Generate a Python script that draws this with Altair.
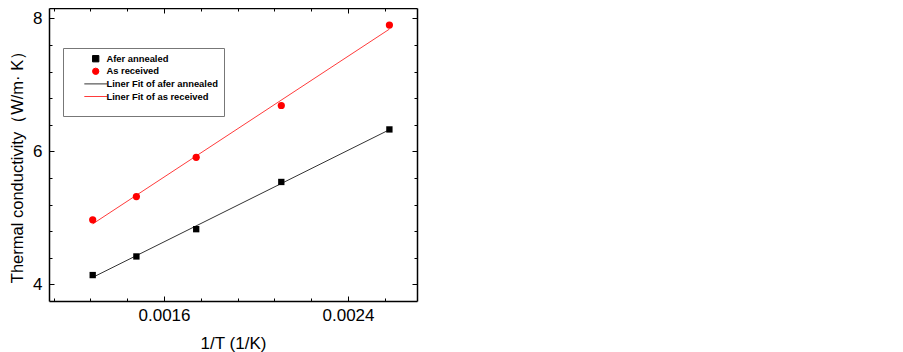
import altair as alt
import pandas as pd

# ---- data ----
inv_T = [0.00129, 0.00148, 0.00174, 0.00211, 0.00258]
annealed = [4.14, 4.42, 4.83, 5.54, 6.33]
received = [4.97, 5.32, 5.91, 6.69, 7.90]
series_names = ["Afer annealed", "As received"]
fit_names = ["Liner Fit of afer annealed", "Liner Fit of as received"]
x_major = [0.0016, 0.0024]
x_minor = [0.00112, 0.00128, 0.00144, 0.00176, 0.00192, 0.00208, 0.00224, 0.00256]
y_major = [4, 6, 8]
y_minor = [4.4, 4.8, 5.2, 5.6, 6.4, 6.8, 7.2, 7.6]

df = pd.DataFrame({
    "x": inv_T + inv_T,
    "y": annealed + received,
    "series": [series_names[0]] * len(inv_T) + [series_names[1]] * len(inv_T),
})

W, H = 368, 293
FONT = "Liberation Sans"

legend_domain = series_names + fit_names
colors = ["#000000", "#ff0000", "#333333", "#ff3b3b"]
line_path = "M-3.6,0H3.6"
shapes = ["square", "circle", line_path, line_path]

xs = alt.Scale(domain=[0.0011, 0.0027], nice=False, zero=False)
ys = alt.Scale(domain=[3.75, 8.156], nice=False, zero=False)

x_test = " || ".join(f"abs(datum.value - {v}) < 1e-9" for v in x_major)
y_test = " || ".join(f"abs(datum.value - {v}) < 1e-9" for v in y_major)
x_all = sorted(x_major + x_minor)
y_all = sorted(y_major + y_minor)


def tick_axis(orient, offset, values, test):
    return alt.Axis(
        orient=orient, offset=offset, values=values, labels=False, title=None,
        grid=False, ticks=True, tickColor="black", tickWidth=1,
        tickSize={"condition": {"test": test, "value": 5}, "value": 3},
        domain=True, domainColor="black", domainWidth=1.5,
    )


leg = alt.Legend(
    title="\u00a0", titleOrient="bottom", titleFontSize=9, titlePadding=0,
    orient="none", legendX=14, legendY=40, direction="vertical",
    labelFont=FONT, labelFontWeight="bold", labelFontSize=9.4, labelColor="black",
    symbolSize=40, symbolStrokeWidth=1, symbolOffset=22, labelOffset=6,
    padding=6, strokeColor="#777777", fillColor="white", rowPadding=1.6,
    labelLimit=300,
)

color_enc = alt.Color("series:N", scale=alt.Scale(domain=legend_domain, range=colors), legend=leg)

base = alt.Chart(df)

fit_expr = (f"datum.series == '{series_names[0]}' ? '{fit_names[0]}' : '{fit_names[1]}'")

lines = base.transform_regression("x", "y", groupby=["series"]).transform_calculate(
    series=fit_expr
).mark_line(strokeWidth=1).encode(
    x=alt.X("x:Q", scale=xs, axis=tick_axis("top", -H, x_all, x_test)),
    y=alt.Y("y:Q", scale=ys, axis=tick_axis("right", -W, y_all, y_test)),
    color=color_enc,
)

points = base.mark_point(filled=True, opacity=1).encode(
    x=alt.X("x:Q", scale=xs, axis=alt.Axis(
        orient="bottom", values=x_major, format=".4f", ticks=False, tickSize=0,
        domain=False, grid=False, labelPadding=6, title="1/T (1/K)", titlePadding=12,
        titleFontSize=17)),
    y=alt.Y("y:Q", scale=ys, axis=alt.Axis(
        orient="left", values=y_major, format="d", ticks=False, tickSize=0,
        domain=False, grid=False, labelPadding=7,
        title="Thermal conductivity（W/m· K）", titlePadding=7, titleY=H / 2 + 8)),
    color=color_enc,
    shape=alt.Shape("series:N", scale=alt.Scale(domain=legend_domain, range=shapes), legend=leg),
    size=alt.condition(f"datum.series == '{series_names[1]}'", alt.value(52), alt.value(40)),
)

mirror = base.mark_point(opacity=0).encode(
    x=alt.X("x:Q", scale=xs, axis=tick_axis("bottom", -H, x_all, x_test)),
    y=alt.Y("y:Q", scale=ys, axis=tick_axis("left", -W, y_all, y_test)),
)

chart = alt.layer(lines, points, mirror).resolve_axis(
    x="independent", y="independent"
).properties(
    width=W, height=H,
    autosize=alt.AutoSizeParams(type="none"),
    padding={"left": 41, "top": 0, "right": 10, "bottom": 51},
).configure_view(stroke=None).configure_axis(
    labelFont=FONT, labelFontSize=17, labelColor="black",
    titleFont=FONT, titleFontSize=16.5, titleFontWeight="normal", titleColor="black",
)

chart.save("out.html", embed_options={"renderer": "svg", "actions": False})
